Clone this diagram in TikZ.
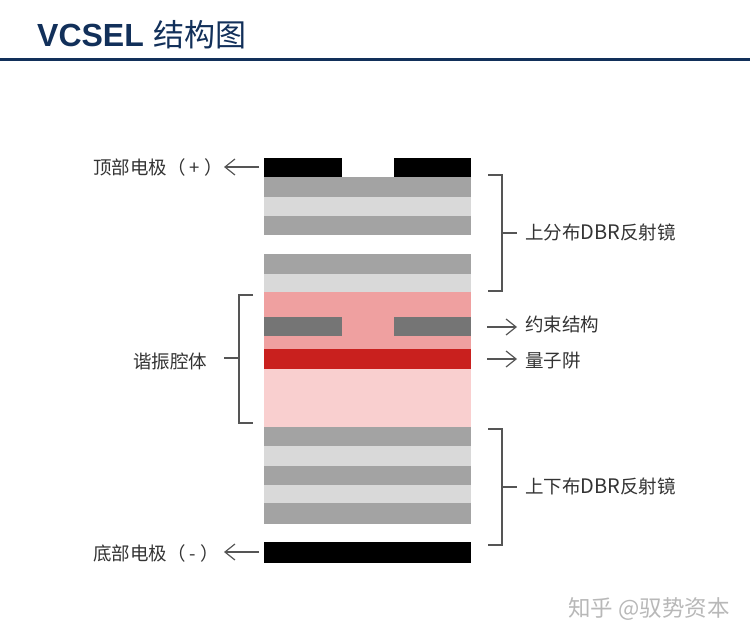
\documentclass[tikz,border=0pt]{standalone}
\usepackage{fontspec}
\setmainfont{Liberation Sans}
\newfontfamily\cjk{Noto Sans CJK SC}
\usetikzlibrary{arrows.meta}
\definecolor{navy}{HTML}{12305A}
\definecolor{gA}{HTML}{A3A3A3}
\definecolor{gB}{HTML}{D9D9D9}
\definecolor{pA}{HTML}{EFA0A0}
\definecolor{pB}{HTML}{F9CFCF}
\definecolor{rd}{HTML}{C9201E}
\definecolor{gC}{HTML}{757575}
\definecolor{ln}{HTML}{555555}
\definecolor{tx}{HTML}{333333}
\newcommand{\layerbox}[6]{%
  \pgfmathsetlengthmacro{\lw}{(#4-#2)*1pt}%
  \pgfmathsetlengthmacro{\lh}{(#5-#3)*1pt}%
  \node[layerbox,fill=#6,minimum width=\lw,minimum height=\lh] (#1) at ({(#2+#4)/2},{(#3+#5)/2}) {};}
\newcommand{\dbr}{{\fontsize{20}{20}\selectfont DBR}}
\tikzset{
  layerbox/.style={draw=none,inner sep=0pt,outer sep=0pt,rectangle},
  lab/.style={inner sep=0pt,text=tx,font=\cjk\fontsize{18.5}{20}\selectfont},
  conn/.style={draw=ln,line width=1.3pt},
  arr/.style={conn,-{Straight Barb[length=10pt,width=16pt,line width=1.2pt]}},
}
\begin{document}
\begin{tikzpicture}[x=1pt,y=-1pt]
\useasboundingbox (0,0) rectangle (750,642);
\node[inner sep=0pt,anchor=west,text=navy] (title) at (37,35) {\fontsize{32}{36}\selectfont\bfseries VCSEL\hspace{9.5pt}{\mdseries\cjk\fontsize{31}{36}\selectfont 结构图}};
\layerbox{rule}{0}{58}{750}{61}{navy}
\layerbox{topL}{264}{157.5}{341.5}{177}{black}
\layerbox{topR}{394}{157.5}{471}{177}{black}
\layerbox{a1}{264}{177}{471}{196.5}{gA}
\layerbox{a2}{264}{196.5}{471}{216}{gB}
\layerbox{a3}{264}{216}{471}{235}{gA}
\layerbox{a4}{264}{254}{471}{274}{gA}
\layerbox{a5}{264}{274}{471}{292}{gB}
\layerbox{cav}{264}{292}{471}{349}{pA}
\layerbox{oxL}{264}{317}{341.5}{336}{gC}
\layerbox{oxR}{394}{317}{471}{336}{gC}
\layerbox{qw}{264}{349}{471}{369}{rd}
\layerbox{spc}{264}{369}{471}{427}{pB}
\layerbox{b1}{264}{427}{471}{446}{gA}
\layerbox{b2}{264}{446}{471}{466}{gB}
\layerbox{b3}{264}{466}{471}{484.5}{gA}
\layerbox{b4}{264}{484.5}{471}{502.5}{gB}
\layerbox{b5}{264}{502.5}{471}{523.5}{gA}
\layerbox{bot}{264}{542}{471}{563}{black}
% labels
\node[lab,anchor=west] (ltop) at (93,167) {顶部电极（ + ）};
\node[lab,anchor=west] (lbot) at (93,553) {底部电极（ - ）};
\node[lab,anchor=west] (lcav) at (133,361) {谐振腔体};
\node[lab,anchor=west] (ldbrt) at (525,232.5) {上分布\dbr{}反射镜};
\node[lab,anchor=west] (lox) at (525,324.5) {约束结构};
\node[lab,anchor=west] (lqw) at (525,361) {量子阱};
\node[lab,anchor=west] (ldbrb) at (525,486.5) {上下布\dbr{}反射镜};
\node[inner sep=0pt,anchor=west,text=black!28,font=\cjk\fontsize{22.5}{24}\selectfont] (wm) at (568,609) {知乎 @驭势资本};
% arrows
\coordinate (atopL) at (259,167); \coordinate (atopE) at (224,167);
\coordinate (abotL) at (259,552); \coordinate (abotE) at (224,552);
\coordinate (aoxS) at (487,327); \coordinate (aoxE) at (517,327);
\coordinate (aqwS) at (487,359); \coordinate (aqwE) at (517,359);
\draw[arr] (atopL) -- (atopE);
\draw[arr] (abotL) -- (abotE);
\draw[arr] (aoxS) -- (aoxE);
\draw[arr] (aqwS) -- (aqwE);
% brackets
\coordinate (t1) at (488,175); \coordinate (t2) at (502,175); \coordinate (t3) at (502,291); \coordinate (t4) at (488,291);
\coordinate (tm) at (502,233); \coordinate (tn) at (517,233);
\draw[conn] (t1) -- (t2) -- (t3) -- (t4);
\draw[conn] (tm) -- (tn);
\coordinate (c1) at (253,295); \coordinate (c2) at (239,295); \coordinate (c3) at (239,423); \coordinate (c4) at (253,423);
\coordinate (cm) at (239,358); \coordinate (cn) at (224,358);
\draw[conn] (c1) -- (c2) -- (c3) -- (c4);
\draw[conn] (cm) -- (cn);
\coordinate (d1) at (488,429); \coordinate (d2) at (502,429); \coordinate (d3) at (502,545); \coordinate (d4) at (488,545);
\coordinate (dm) at (502,487); \coordinate (dn) at (517,487);
\draw[conn] (d1) -- (d2) -- (d3) -- (d4);
\draw[conn] (dm) -- (dn);
\end{tikzpicture}
\end{document}
